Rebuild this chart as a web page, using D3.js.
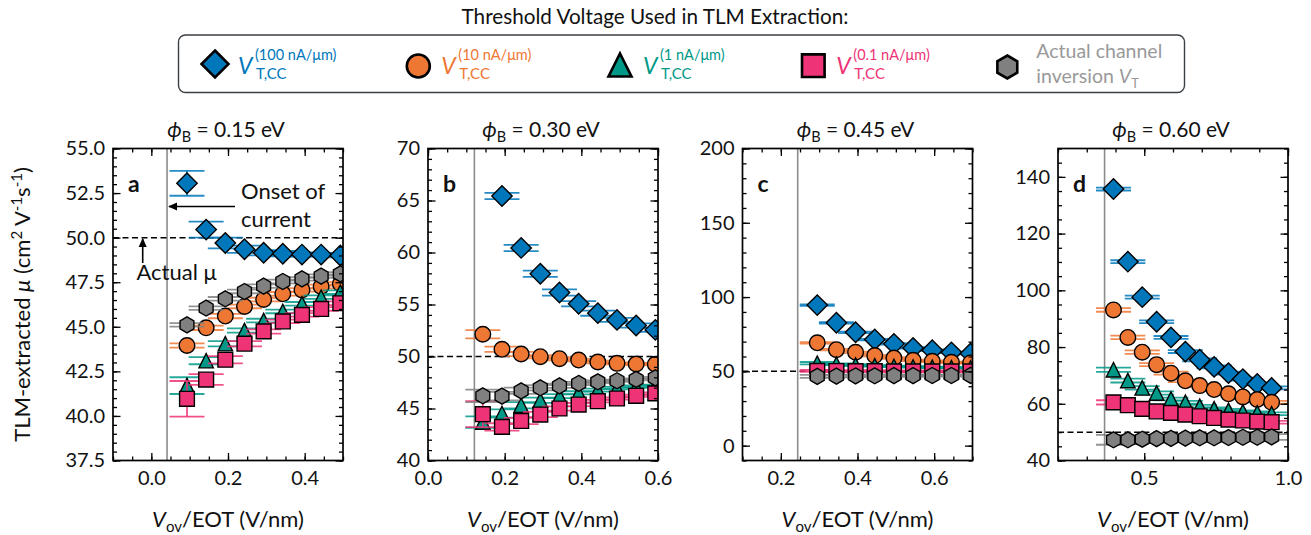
<!DOCTYPE html>
<html><head><meta charset="utf-8">
<script src="https://cdn.jsdelivr.net/npm/d3@7"></script>
<style>body{margin:0;background:#fff}svg{font-family:Lato,"Noto Sans",sans-serif}</style>
</head><body><svg id="chart" width="1311" height="535"></svg>
<script>
// ---------------- data ----------------
const seriesLabels = ["(100 nA/μm)", "(10 nA/μm)", "(1 nA/μm)", "(0.1 nA/μm)", "Actual channel"];
const seriesColors = ["#0077BB", "#EE7733", "#009988", "#EE3377", "#808080"];
const seriesShapes = ["diamond", "circle", "triangle", "square", "hexagon"];
const panelLetters = ["a", "b", "c", "d"];
const panelBarriers = ["0.15", "0.30", "0.45", "0.60"];
const onsetVov = [0.041, 0.121, 0.244, 0.362];
const actualMu = 50;

// panel a (phi_B = 0.15 eV)
const xA = [0.093, 0.143, 0.193, 0.243, 0.293, 0.343, 0.393, 0.443, 0.493];
const a100 = [53.05, 50.45, 49.7, 49.35, 49.15, 49.1, 49.05, 49.05, 49.0];
const a10 = [43.95, 44.94, 45.6, 46.14, 46.53, 46.85, 47.07, 47.26, 47.41];
const a1 = [41.7, 43.1, 44.05, 44.79, 45.35, 45.86, 46.29, 46.66, 46.94];
const a01 = [40.96, 42.04, 43.15, 44.05, 44.74, 45.3, 45.67, 46.0, 46.32];
const aAct = [45.11, 46.05, 46.57, 46.98, 47.28, 47.54, 47.69, 47.84, 47.97];
const a100Err = [0.7, 0.45, 0.3, 0.2, 0.15, 0.15, 0.12, 0.1, 0.1];
const a10Err = [0.12, 0.12, 0.12, 0.1, 0.1, 0.1, 0.1, 0.1, 0.1];
const a1Err = [0.47, 0.2, 0.15, 0.12, 0.1, 0.1, 0.1, 0.1, 0.1];
const a01Err = [1.0, 0.3, 0.2, 0.15, 0.12, 0.1, 0.1, 0.1, 0.1];
const aActErr = [0.1, 0.1, 0.1, 0.1, 0.1, 0.1, 0.1, 0.1, 0.1];

// panel b (phi_B = 0.30 eV)
const xB = [0.143, 0.193, 0.243, 0.293, 0.343, 0.393, 0.443, 0.493, 0.543, 0.593];
const b100 = [null, 65.43, 60.44, 57.96, 56.16, 55.07, 54.17, 53.52, 52.98, 52.56];
const b10 = [52.14, 50.69, 50.24, 49.98, 49.79, 49.66, 49.47, 49.34, 49.28, 49.25];
const b1 = [43.7, 44.52, 45.32, 45.8, 46.19, 46.51, 46.77, 46.95, 47.1, 47.2];
const b01 = [44.45, 43.23, 43.8, 44.42, 45.0, 45.38, 45.7, 45.96, 46.22, 46.45];
const bAct = [46.22, 46.19, 46.7, 46.99, 47.18, 47.41, 47.57, 47.67, 47.8, 47.95];
const b100Err = [null, 0.3, 0.3, 0.3, 0.3, 0.25, 0.25, 0.2, 0.2, 0.2];
const b10Err = [0.4, 0.25, 0.2, 0.15, 0.15, 0.12, 0.12, 0.1, 0.1, 0.1];
const b1Err = [0.55, 0.4, 0.3, 0.25, 0.2, 0.15, 0.15, 0.12, 0.12, 0.1];
const b01Err = [1.25, 0.35, 0.3, 0.25, 0.2, 0.15, 0.12, 0.1, 0.1, 0.1];
const bActErr = [0.6, 0.4, 0.3, 0.25, 0.2, 0.15, 0.12, 0.1, 0.1, 0.1];

// panel c (phi_B = 0.45 eV)
const xC = [0.295, 0.345, 0.395, 0.445, 0.495, 0.545, 0.595, 0.645, 0.695];
const c100 = [94.6, 82.7, 76.3, 71.4, 68.5, 65.8, 64.2, 62.8, 62.0];
const c10 = [69.2, 64.6, 62.8, 60.6, 59.0, 57.4, 56.8, 56.1, 55.7];
const c1 = [55.5, 54.8, 54.2, 53.7, 53.3, 53.0, 52.7, 52.5, 52.3];
const c01 = [50.3, 50.2, 50.1, 50.1, 50.0, 50.0, 50.0, 50.0, 50.0];
const cAct = [46.6, 46.8, 46.9, 47.0, 47.1, 47.1, 47.2, 47.2, 47.3];
const c100Err = [0.5, 0.5, 0.5, 0.5, 0.5, 0.5, 0.5, 0.5, 0.5];
const c10Err = [0.5, 0.5, 0.5, 0.5, 0.5, 0.5, 0.5, 0.5, 0.5];
const c1Err = [0.8, 0.6, 0.6, 0.5, 0.5, 0.5, 0.5, 0.5, 0.5];
const c01Err = [0.6, 0.5, 0.5, 0.5, 0.5, 0.5, 0.5, 0.5, 0.5];
const cActErr = [1.0, 0.8, 0.8, 0.7, 0.7, 0.6, 0.6, 0.6, 0.6];

// panel d (phi_B = 0.60 eV)
const xD = [0.393, 0.443, 0.493, 0.543, 0.593, 0.643, 0.693, 0.743, 0.793, 0.843, 0.893, 0.943];
const d100 = [135.7, 110.1, 97.6, 88.9, 83.4, 78.4, 75.5, 73.0, 70.8, 68.7, 67.0, 65.6];
const d10 = [93.1, 83.4, 78.2, 73.8, 70.8, 68.1, 66.4, 65.0, 63.5, 62.4, 61.5, 60.5];
const d1 = [72.0, 68.2, 65.6, 63.8, 61.7, 60.5, 59.1, 58.2, 57.7, 57.2, 56.8, 56.5];
const d01 = [60.5, 59.5, 58.2, 57.3, 56.8, 56.2, 55.6, 55.0, 54.4, 54.1, 53.7, 53.5];
const dAct = [47.3, 47.3, 47.5, 47.7, 47.8, 47.9, 48.0, 48.0, 48.1, 48.2, 48.2, 48.3];
const d100Err = [0.5, 0.5, 0.5, 0.5, 0.5, 0.5, 0.5, 0.5, 0.5, 0.5, 0.5, 0.5];
const d10Err = [0.65, 0.6, 0.6, 0.5, 0.5, 0.5, 0.5, 0.5, 0.5, 0.5, 0.5, 0.5];
const d1Err = [0.75, 0.7, 0.6, 0.6, 0.5, 0.5, 0.5, 0.5, 0.5, 0.5, 0.5, 0.5];
const d01Err = [0.75, 0.7, 0.6, 0.6, 0.5, 0.5, 0.5, 0.5, 0.5, 0.5, 0.5, 0.5];
const dActErr = [1.75, 1.5, 1.3, 1.2, 1.1, 1.0, 1.0, 1.0, 1.0, 1.0, 1.0, 1.0];

// tick labels
const xTicksA = [0.0, 0.2, 0.4];
const xTicksB = [0.0, 0.2, 0.4, 0.6];
const xTicksC = [0.2, 0.4, 0.6];
const xTicksD = [0.5, 1.0];
const yTicksA = [37.5, 40.0, 42.5, 45.0, 47.5, 50.0, 52.5, 55.0];
const yTicksB = [40, 45, 50, 55, 60, 65, 70];
const yTicksC = [0, 50, 100, 150, 200];
const yTicksD = [40, 60, 80, 100, 120, 140];

// ---------------- layout ----------------
const panelCfg = [
  {x: xA, ys: [a100, a10, a1, a01, aAct], errs: [a100Err, a10Err, a1Err, a01Err, aActErr],
   xDom: [-0.1, 0.5], yDom: [37.5, 55], xT: xTicksA, yT: yTicksA, xMinor: 0.05, yMinor: 0.5, yFmt: ".1f", xFmt: ".1f"},
  {x: xB, ys: [b100, b10, b1, b01, bAct], errs: [b100Err, b10Err, b1Err, b01Err, bActErr],
   xDom: [0, 0.6], yDom: [40, 70], xT: xTicksB, yT: yTicksB, xMinor: 0.05, yMinor: 1, yFmt: "d", xFmt: ".1f"},
  {x: xC, ys: [c100, c10, c1, c01, cAct], errs: [c100Err, c10Err, c1Err, c01Err, cActErr],
   xDom: [0.1, 0.7], yDom: [-10, 200], xT: xTicksC, yT: yTicksC, xMinor: 0.05, yMinor: 10, yFmt: "d", xFmt: ".1f"},
  {x: xD, ys: [d100, d10, d1, d01, dAct], errs: [d100Err, d10Err, d1Err, d01Err, dActErr],
   xDom: [0.2, 1.0], yDom: [40, 150], xT: xTicksD, yT: yTicksD, xMinor: 0.1, yMinor: 5, yFmt: "d", xFmt: ".1f"}
];
const lefts = [113, 428, 742.5, 1058];
const plotTop = 148.5, W = 230, H = 312;
const capHalf = 17.5;

const svg = d3.select("#chart");

function markerPath(shape, s) {
  if (shape === "diamond") return `M0,${-s}L${s},0L0,${s}L${-s},0Z`;
  if (shape === "circle") return `M${s},0A${s},${s} 0 1,1 ${-s},0A${s},${s} 0 1,1 ${s},0Z`;
  if (shape === "triangle") return `M0,${-s}L${s},${s}L${-s},${s}Z`;
  if (shape === "square") return `M${-s},${-s}H${s}V${s}H${-s}Z`;
  const pts = d3.range(6).map(k => {
    const a = -Math.PI / 2 + k * Math.PI / 3;
    return [s * Math.cos(a), s * Math.sin(a)];
  });
  return "M" + pts.map(p => p.join(",")).join("L") + "Z";
}
const plotSize = {diamond: 10.2, circle: 7.8, triangle: 7.2, square: 7.4, hexagon: 8};
const legendSize = {diamond: 13.5, circle: 11.5, triangle: 11.5, square: 11.3, hexagon: 11.5};

const defs = svg.append("defs");
defs.append("marker").attr("id", "arrowhead").attr("viewBox", "0 0 10 10")
  .attr("refX", 9).attr("refY", 5).attr("markerWidth", 9).attr("markerHeight", 9)
  .attr("markerUnits", "userSpaceOnUse").attr("orient", "auto")
  .append("path").attr("d", "M0,0.5L10,5L0,9.5Z").attr("fill", "#000");

panelCfg.forEach((cfg, pi) => {
  const L = lefts[pi];
  const xs = d3.scaleLinear().domain(cfg.xDom).range([L, L + W]);
  const ys = d3.scaleLinear().domain(cfg.yDom).range([plotTop + H, plotTop]);
  const g = svg.append("g");

  defs.append("clipPath").attr("id", "clip" + pi)
    .append("rect").attr("x", L).attr("y", plotTop).attr("width", W).attr("height", H);
  const plot = g.append("g").attr("clip-path", `url(#clip${pi})`);

  plot.append("line").attr("x1", xs(onsetVov[pi])).attr("x2", xs(onsetVov[pi]))
    .attr("y1", plotTop).attr("y2", plotTop + H).attr("stroke", "#8c8c8c").attr("stroke-width", 1.6);
  plot.append("line").attr("x1", L).attr("x2", L + W).attr("y1", ys(actualMu)).attr("y2", ys(actualMu))
    .attr("stroke", "#000").attr("stroke-width", 1.5).attr("stroke-dasharray", "6,3.5");

  cfg.ys.forEach((vals, si) => {
    const col = seriesColors[si];
    const errs = cfg.errs[si];
    const pts = cfg.x.map((xv, i) => ({x: xv, y: vals[i], e: errs[i]})).filter(d => d.y != null);
    const eg = plot.append("g").attr("stroke", col).attr("stroke-width", 1.8).attr("stroke-opacity", 0.85);
    pts.forEach(d => {
      const cx = xs(d.x), y1 = ys(d.y - d.e), y2 = ys(d.y + d.e);
      eg.append("line").attr("x1", cx).attr("x2", cx).attr("y1", y1).attr("y2", y2);
      eg.append("line").attr("x1", cx - capHalf).attr("x2", cx + capHalf).attr("y1", y1).attr("y2", y1);
      eg.append("line").attr("x1", cx - capHalf).attr("x2", cx + capHalf).attr("y1", y2).attr("y2", y2);
    });
    plot.append("g").selectAll("path").data(pts).join("path")
      .attr("transform", d => `translate(${xs(d.x)},${ys(d.y)})`)
      .attr("d", markerPath(seriesShapes[si], plotSize[seriesShapes[si]]))
      .attr("fill", col).attr("stroke", "#000").attr("stroke-width", 1.4);
  });

  const xMinorVals = d3.range(Math.ceil(cfg.xDom[0] / cfg.xMinor - 1e-9), Math.floor(cfg.xDom[1] / cfg.xMinor + 1e-9) + 1).map(k => +(k * cfg.xMinor).toFixed(4));
  const yMinorVals = d3.range(Math.ceil(cfg.yDom[0] / cfg.yMinor - 1e-9), Math.floor(cfg.yDom[1] / cfg.yMinor + 1e-9) + 1).map(k => +(k * cfg.yMinor).toFixed(4));

  const axStyle = sel => {
    sel.select(".domain").remove();
    sel.selectAll(".tick line").attr("stroke", "#000").attr("stroke-width", 1.3);
    sel.selectAll("text").attr("font-size", 20).attr("fill", "#111").attr("font-family", "Lato");
  };
  g.append("g").attr("transform", `translate(0,${plotTop + H})`)
    .call(d3.axisBottom(xs).tickValues(xMinorVals).tickSize(-4).tickFormat("")).call(axStyle);
  g.append("g").attr("transform", `translate(0,${plotTop})`)
    .call(d3.axisTop(xs).tickValues(xMinorVals).tickSize(-4).tickFormat("")).call(axStyle);
  g.append("g").attr("transform", `translate(${L},0)`)
    .call(d3.axisLeft(ys).tickValues(yMinorVals).tickSize(-4).tickFormat("")).call(axStyle);
  g.append("g").attr("transform", `translate(${L + W},0)`)
    .call(d3.axisRight(ys).tickValues(yMinorVals).tickSize(-4).tickFormat("")).call(axStyle);

  g.append("g").attr("transform", `translate(0,${plotTop + H})`)
    .call(d3.axisBottom(xs).tickValues(cfg.xT).tickSize(-7.5).tickPadding(10).tickFormat(d3.format(cfg.xFmt))).call(axStyle);
  g.append("g").attr("transform", `translate(0,${plotTop})`)
    .call(d3.axisTop(xs).tickValues(cfg.xT).tickSize(-7.5).tickFormat("")).call(axStyle);
  g.append("g").attr("transform", `translate(${L},0)`)
    .call(d3.axisLeft(ys).tickValues(cfg.yT).tickSize(-7.5).tickPadding(8).tickFormat(d3.format(cfg.yFmt))).call(axStyle);
  g.append("g").attr("transform", `translate(${L + W},0)`)
    .call(d3.axisRight(ys).tickValues(cfg.yT).tickSize(-7.5).tickFormat("")).call(axStyle);

  g.append("rect").attr("x", L).attr("y", plotTop).attr("width", W).attr("height", H)
    .attr("fill", "none").attr("stroke", "#000").attr("stroke-width", 1.7);

  g.append("text").attr("x", L + 15).attr("y", plotTop + 43.5).attr("font-size", 23).attr("font-weight", "bold")
    .attr("fill", "#111").text(panelLetters[pi]);

  const t = g.append("text").attr("x", L + W / 2 - 2).attr("y", 137).attr("text-anchor", "middle")
    .attr("font-size", 21).attr("fill", "#111");
  t.append("tspan").attr("font-style", "italic").text("ϕ");
  t.append("tspan").attr("font-size", 14.5).attr("dy", 5).text("B");
  t.append("tspan").attr("dy", -5).text(` = ${panelBarriers[pi]} eV`);

  const xl = g.append("text").attr("x", L + W / 2).attr("y", 527).attr("text-anchor", "middle")
    .attr("font-size", 22).attr("fill", "#111");
  xl.append("tspan").attr("font-style", "italic").text("V");
  xl.append("tspan").attr("font-size", 15).attr("dy", 5).text("ov");
  xl.append("tspan").attr("dy", -5).text("/EOT (V/nm)");

  if (pi === 0) {
    g.append("text").attr("x", 241).attr("y", 199).attr("font-size", 22).attr("fill", "#111").text("Onset of");
    g.append("text").attr("x", 241).attr("y", 226.5).attr("font-size", 22).attr("fill", "#111").text("current");
    g.append("line").attr("x1", 235).attr("x2", 169).attr("y1", 206.5).attr("y2", 206.5)
      .attr("stroke", "#000").attr("stroke-width", 1.6).attr("marker-end", "url(#arrowhead)");
    g.append("text").attr("x", 136.5).attr("y", 280).attr("font-size", 22).attr("fill", "#111").text("Actual μ");
    g.append("line").attr("x1", 142.7).attr("x2", 142.7).attr("y1", 263).attr("y2", 239)
      .attr("stroke", "#000").attr("stroke-width", 1.6).attr("marker-end", "url(#arrowhead)");
  }
});

const yl = svg.append("text").attr("transform", `translate(30,${plotTop + H / 2}) rotate(-90)`)
  .attr("text-anchor", "middle").attr("font-size", 22).attr("fill", "#111");
yl.append("tspan").text("TLM-extracted ");
yl.append("tspan").attr("font-style", "italic").text("μ");
yl.append("tspan").text(" (cm");
yl.append("tspan").attr("font-size", 15).attr("dy", -8).text("2");
yl.append("tspan").attr("dy", 8).text(" V");
yl.append("tspan").attr("font-size", 15).attr("dy", -8).text("-1");
yl.append("tspan").attr("dy", 8).text("s");
yl.append("tspan").attr("font-size", 15).attr("dy", -8).text("-1");
yl.append("tspan").attr("dy", 8).text(")");

// ---------------- legend ----------------
svg.append("text").attr("x", 655).attr("y", 23.5).attr("text-anchor", "middle").attr("font-size", 20.7)
  .attr("fill", "#111").text("Threshold Voltage Used in TLM Extraction:");
svg.append("rect").attr("x", 178.5).attr("y", 35).attr("width", 1006).attr("height", 57.5).attr("rx", 7)
  .attr("fill", "#fff").attr("stroke", "#3a3f44").attr("stroke-width", 1.4);

const legX = [215, 418.3, 620, 813.3, 1007.3];
const legY = [64, 66, 65, 65.7, 67];
seriesShapes.forEach((sh, i) => {
  svg.append("path").attr("transform", `translate(${legX[i]},${legY[i]})`)
    .attr("d", markerPath(sh, legendSize[sh])).attr("fill", seriesColors[i])
    .attr("stroke", "#000").attr("stroke-width", 2.6);
  if (i < 4) {
    const x0 = legX[i] + 23;
    svg.append("text").attr("x", x0).attr("y", 73.5).attr("font-size", 23).attr("font-style", "italic")
      .attr("fill", seriesColors[i]).text("V");
    svg.append("text").attr("x", x0 + 17).attr("y", 59.5).attr("font-size", 14.5)
      .attr("fill", seriesColors[i]).text(seriesLabels[i]);
    svg.append("text").attr("x", x0 + 18).attr("y", 78.5).attr("font-size", 15)
      .attr("fill", seriesColors[i]).text("T,CC");
  } else {
    const x0 = legX[i] + 29;
    svg.append("text").attr("x", x0).attr("y", 58).attr("font-size", 19.5).attr("fill", "#999").text(seriesLabels[i]);
    const t2 = svg.append("text").attr("x", x0).attr("y", 83).attr("font-size", 19.5).attr("fill", "#999");
    t2.append("tspan").text("inversion ");
    t2.append("tspan").attr("font-style", "italic").text("V");
    t2.append("tspan").attr("font-size", 13).attr("dy", 5).text("T");
  }
});
</script></body></html>
